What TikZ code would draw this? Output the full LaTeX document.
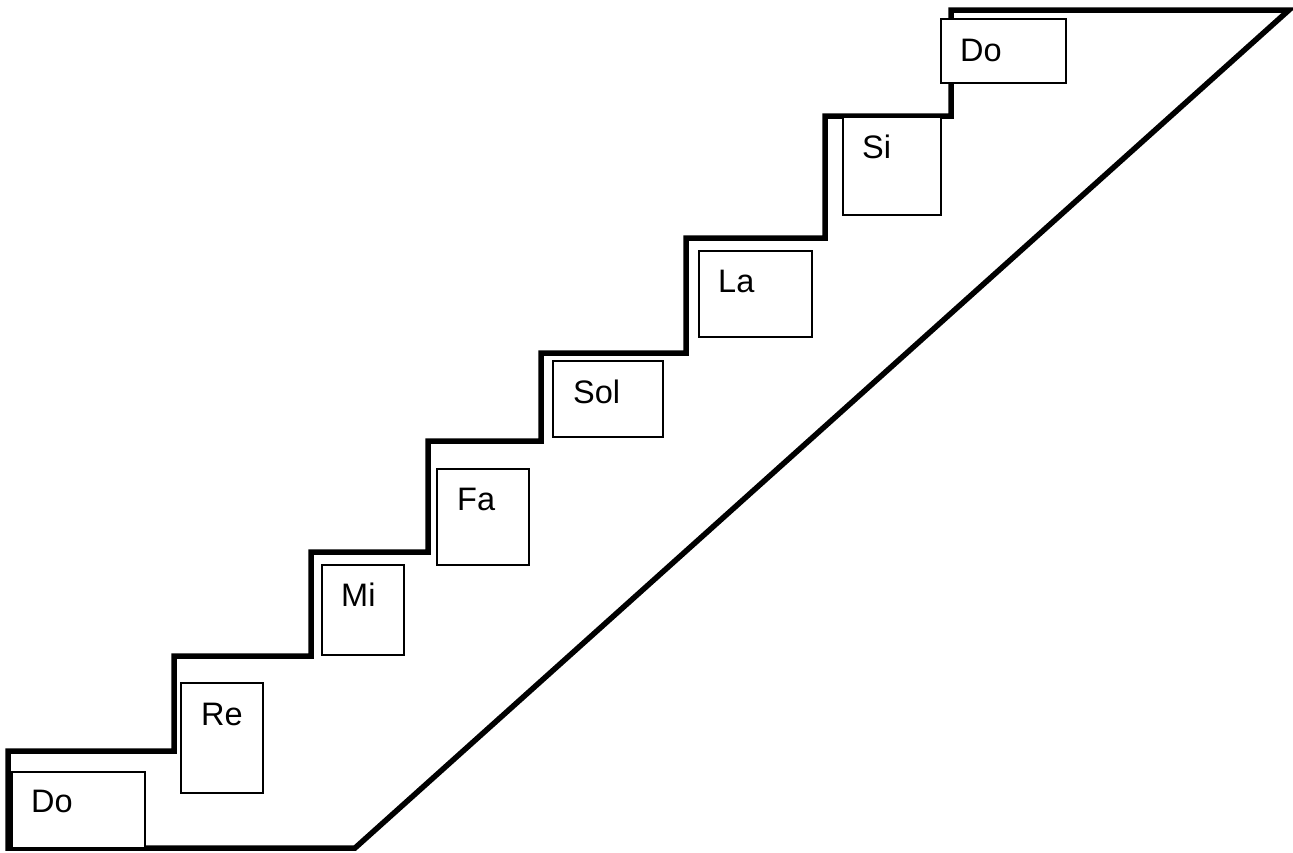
\documentclass[tikz,border=0pt]{standalone}
\usepackage{fontspec}
\setmainfont{Liberation Sans}
\begin{document}
\begin{tikzpicture}[x=1pt,y=-1pt,
  stair/.style={line width=5.5pt, line join=miter, black},
  notebox/.style={draw=black, fill=white, line width=2pt, rectangle, inner sep=0pt, outer sep=0pt},
  lbl/.style={inner sep=0pt, anchor=base west, font=\fontsize{32.5}{38}\selectfont}]
\useasboundingbox (0,0) rectangle (1293,852);
% staircase outline
\coordinate (p0) at (355,848);
\coordinate (p1) at (8,848);
\coordinate (p2) at (8,751);
\coordinate (p3) at (174,751);
\coordinate (p4) at (174,656);
\coordinate (p5) at (311,656);
\coordinate (p6) at (311,552);
\coordinate (p7) at (428,552);
\coordinate (p8) at (428,441);
\coordinate (p9) at (541,441);
\coordinate (p10) at (541,353);
\coordinate (p11) at (686,353);
\coordinate (p12) at (686,238);
\coordinate (p13) at (825,238);
\coordinate (p14) at (825,116);
\coordinate (p15) at (951,116);
\coordinate (p16) at (951,10);
\coordinate (p17) at (1289,10);
\draw[stair] (p0) -- (p1) -- (p2) -- (p3) -- (p4) -- (p5) -- (p6) -- (p7) -- (p8)
  -- (p9) -- (p10) -- (p11) -- (p12) -- (p13) -- (p14) -- (p15) -- (p16) -- (p17) -- cycle;
% note boxes
\node[notebox, minimum width=133pt, minimum height=76pt] (bdo1) at (78.5,810) {};
\node[notebox, minimum width=82pt, minimum height=110pt] (bre) at (222,738) {};
\node[notebox, minimum width=82pt, minimum height=90pt] (bmi) at (363,610) {};
\node[notebox, minimum width=92pt, minimum height=96pt] (bfa) at (483,517) {};
\node[notebox, minimum width=110pt, minimum height=76pt] (bsol) at (608,399) {};
\node[notebox, minimum width=113pt, minimum height=86pt] (bla) at (755.5,294) {};
\node[notebox, minimum width=98pt, minimum height=98pt] (bsi) at (892,166) {};
\node[notebox, minimum width=125pt, minimum height=64pt] (bdo2) at (1003.5,51) {};
% labels
\node[lbl] (tdo1) at (31,812) {Do};
\node[lbl] (tre) at (201,725) {Re};
\node[lbl] (tmi) at (341,606) {Mi};
\node[lbl] (tfa) at (457,510) {Fa};
\node[lbl] (tsol) at (573,403) {Sol};
\node[lbl] (tla) at (718,292) {La};
\node[lbl] (tsi) at (862,158) {Si};
\node[lbl] (tdo2) at (960,61) {Do};
\end{tikzpicture}
\end{document}
